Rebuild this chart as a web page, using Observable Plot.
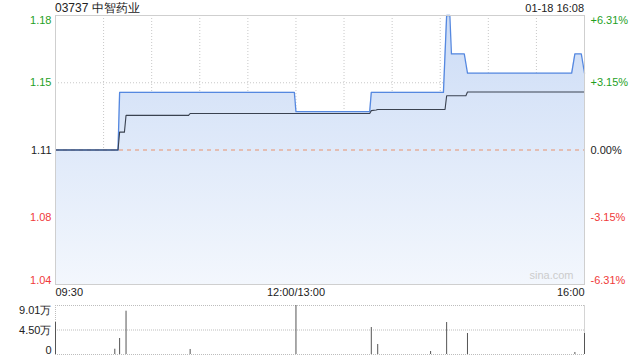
<!DOCTYPE html>
<html>
<head>
<meta charset="utf-8">
<script src="https://cdn.jsdelivr.net/npm/d3@7"></script>
<script src="https://cdn.jsdelivr.net/npm/@observablehq/plot@0.6"></script>
<style>
  html, body { margin: 0; padding: 0; background: #fff; }
  #wrap { position: relative; width: 640px; height: 360px; overflow: hidden; font-family: "Liberation Sans", Arial, sans-serif; }
  #title { position: absolute; left: 55px; top: 1px; font-size: 12px; line-height: 14px; color: #222; }
  #stamp { position: absolute; right: 56px; top: 1px; font-size: 11px; line-height: 14px; color: #222; }
  #main { position: absolute; left: 0; top: 0; }
  #vol { position: absolute; left: 0; top: 298px; }
</style>
</head>
<body>
<div id="wrap">
  <div id="main"></div>
  <div id="vol"></div>
  <div id="title"></div>
  <div id="stamp"></div>
</div>
<script>
// ---- data ----
const title = "03737 中智药业";
const stamp = "01-18 16:08";
const prevClose = 1.11;
const priceHigh = 1.18;

// minutes since 09:30 (trading minutes, lunch break removed)
const priceT = [0, 39, 40, 149, 150, 196, 197, 242, 244, 246, 247, 255, 257, 322, 324, 328, 330];
const priceV = [1.11, 1.11, 1.14, 1.14, 1.13, 1.13, 1.14, 1.14, 1.18, 1.18, 1.16, 1.16, 1.15, 1.15, 1.16, 1.16, 1.15];

const avgT = [0, 39, 40, 43, 44, 83, 84, 196, 197, 200, 201, 243, 244, 256, 257, 330];
const avgV = [1.11, 1.11, 1.1193, 1.1193, 1.128, 1.128, 1.129, 1.129, 1.1305, 1.1308, 1.1311, 1.1311, 1.1382, 1.1382, 1.1402, 1.1402];

const priceTicks = [1.18, 1.145, 1.11, 1.075, 1.04];
const priceTickLabels = ["1.18", "1.15", "1.11", "1.08", "1.04"];
const pctTickLabels = ["+6.31%", "+3.15%", "0.00%", "-3.15%", "-6.31%"];

const timeTicks = [0, 150, 330];
const timeLabels = ["09:30", "12:00/13:00", "16:00"];
const gridMinutes = [30, 60, 90, 120, 150, 180, 210, 240, 270, 300];

// volume, in 万 shares
const volT = [0, 37, 40, 44, 84, 150, 197, 201, 234, 244, 257, 324, 330];
const volV = [5.88, 0.97, 2.94, 7.96, 0.92, 9.01, 4.96, 1.84, 0.55, 5.88, 3.86, 0.37, 3.86];
const volTicks = [9.01, 4.505, 0];
const volTickLabels = ["9.01万", "4.50万", "0"];

// ---- derived ----
const dev = priceHigh - prevClose;
const yMin = prevClose - dev, yMax = prevClose + dev;
const price = priceT.map((t, i) => ({t, v: priceV[i]}));
const avg = avgT.map((t, i) => ({t, v: avgV[i]}));
const ticks = priceTicks.map((v, i) => ({v, label: priceTickLabels[i], pct: pctTickLabels[i]}));
const times = timeTicks.map((t, i) => ({t, label: timeLabels[i]}));
const vticks = volTicks.map((v, i) => ({v, label: volTickLabels[i]}));

const GREEN = "#1f9f1f", RED = "#f03a3a", DARK = "#222";
const tickColor = d => d.v > prevClose + 1e-9 ? GREEN : d.v < prevClose - 1e-9 ? RED : DARK;

document.getElementById("title").textContent = title;
document.getElementById("stamp").textContent = stamp;

const font = {fontFamily: "'Liberation Sans', Arial, sans-serif", fontSize: "11px", background: "transparent", overflow: "visible"};

function labelMarks(data, key, anchor, dx, textAnchor, colorFn, dyTop = 0, dyBottom = 0) {
  const n = data.length;
  return [
    Plot.text(data, {filter: (d, i) => i === 0, y: "v", text: key, frameAnchor: anchor, dx, dy: dyTop, textAnchor, lineAnchor: "top", fill: colorFn}),
    Plot.text(data, {filter: (d, i) => i > 0 && i < n - 1, y: "v", text: key, frameAnchor: anchor, dx, textAnchor, lineAnchor: "middle", fill: colorFn}),
    Plot.text(data, {filter: (d, i) => i === n - 1, y: "v", text: key, frameAnchor: anchor, dx, dy: dyBottom, textAnchor, lineAnchor: "bottom", fill: colorFn})
  ];
}

const main = Plot.plot({
  width: 640, height: 300,
  marginTop: 15, marginBottom: 16, marginLeft: 55, marginRight: 56,
  x: {domain: [0, 330], axis: null},
  y: {domain: [yMin, yMax], axis: null},
  color: {type: "identity"},
  style: font,
  marks: [
    Plot.ruleX(gridMinutes, {stroke: "#c8c8c8", strokeDasharray: "1,2"}),
    Plot.ruleY(ticks.filter((d, i) => i === 1 || i === 3), {y: "v", stroke: "#c8c8c8", strokeDasharray: "1,2"}),
    Plot.areaY(price, {x: "t", y1: yMin, y2: "v", fill: "url(#pxgrad)"}),
    Plot.ruleY([prevClose], {stroke: "#e8916c", strokeDasharray: "4,4"}),
    Plot.lineY(price, {x: "t", y: "v", stroke: "#5588e0", strokeWidth: 1.3}),
    Plot.lineY(avg, {x: "t", y: "v", stroke: "#3a4250", strokeWidth: 1.1}),
    Plot.frame({stroke: "#cfcfcf"}),
    ...labelMarks(ticks, "label", "left", -4, "end", tickColor, 1, -1),
    ...labelMarks(ticks, "pct", "right", 6, "start", tickColor, 1, -1),
    Plot.text(times, {filter: (d, i) => i === 0, x: "t", text: "label", frameAnchor: "bottom", dy: 11, textAnchor: "start", fill: DARK}),
    Plot.text(times, {filter: (d, i) => i === 1, x: "t", text: "label", frameAnchor: "bottom", dy: 11, textAnchor: "middle", fill: DARK}),
    Plot.text(times, {filter: (d, i) => i === 2, x: "t", text: "label", frameAnchor: "bottom", dy: 11, textAnchor: "end", fill: DARK}),
    Plot.text(["sina.com"], {frameAnchor: "bottom-right", dx: -11, dy: -6, textAnchor: "end", fill: "#cccccc"})
  ]
});
const defs = d3.select(main).insert("defs", ":first-child");
const g = defs.append("linearGradient").attr("id", "pxgrad").attr("x1", 0).attr("y1", 0).attr("x2", 0).attr("y2", 1);
g.append("stop").attr("offset", "0%").attr("stop-color", "#ccdcf6");
g.append("stop").attr("offset", "100%").attr("stop-color", "#f3f7fd");
document.getElementById("main").appendChild(main);

const vol = Plot.plot({
  width: 640, height: 62,
  marginTop: 7, marginBottom: 6, marginLeft: 55, marginRight: 56,
  x: {domain: [0, 330], axis: null},
  y: {domain: [0, 9.01], axis: null},
  color: {type: "identity"},
  style: font,
  marks: [
    Plot.ruleY(vticks, {y: "v", stroke: "#bdbdbd", strokeDasharray: "1,1"}),
    Plot.ruleX([0], {stroke: "#bdbdbd", strokeDasharray: "1,1"}),
    Plot.ruleX([330], {stroke: "#d4d4d4"}),
    Plot.ruleX(volT, {x: volT, y1: 0, y2: volV, stroke: "#555", strokeWidth: 1}),
    ...labelMarks(vticks, "label", "left", -4, "end", () => DARK, 1, -1)
  ]
});
document.getElementById("vol").appendChild(vol);
</script>
</body>
</html>
